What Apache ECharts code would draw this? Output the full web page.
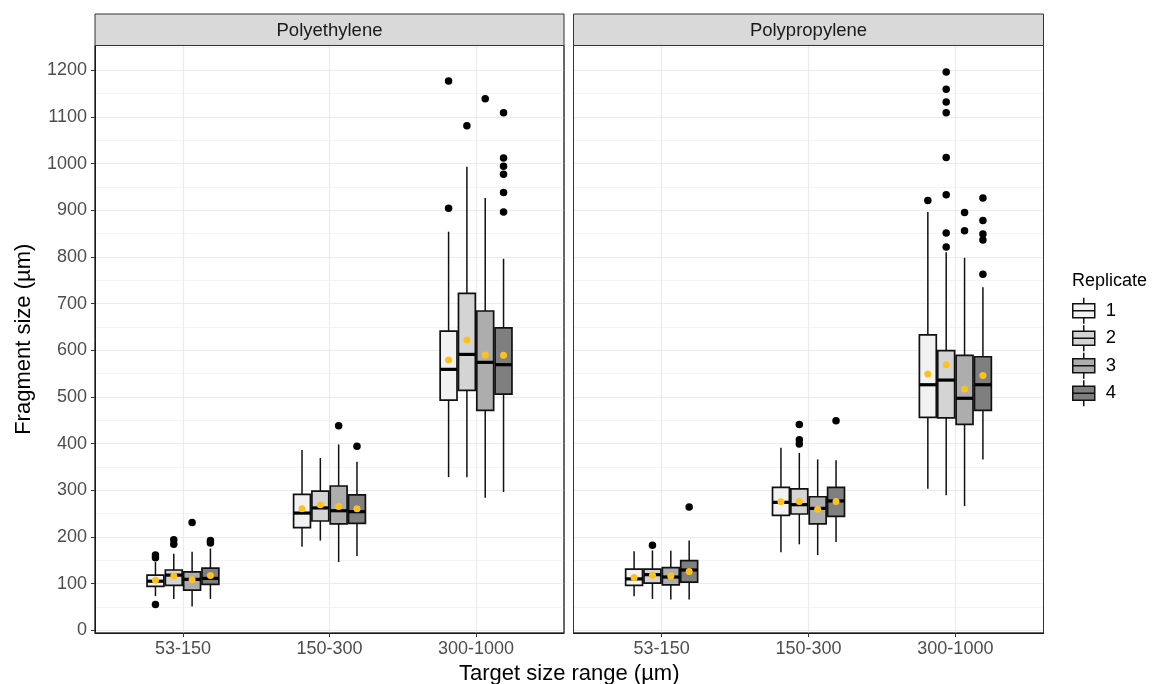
<!DOCTYPE html>
<html>
<head>
<meta charset="utf-8">
<script src="https://cdn.jsdelivr.net/npm/echarts@6/dist/echarts.min.js"></script>
<style>html,body{margin:0;padding:0;background:#fff}#chart{width:1157px;height:684px}</style>
</head>
<body>
<div id="chart"></div>
<script>
// ---------------- data ----------------
const facets = ['Polyethylene', 'Polypropylene'];
const categories = ['53-150', '150-300', '300-1000'];
const replicates = ['1', '2', '3', '4'];
const yTicks = [0, 100, 200, 300, 400, 500, 600, 700, 800, 900, 1000, 1100, 1200];

// [category][replicate] = [lower whisker, Q1, median, Q3, upper whisker]
const peStats = [
  [[73, 94, 105, 118, 146], [67, 96, 118, 129, 164], [51, 86, 109, 125, 168], [67, 98, 111, 133, 175]],
  [[179, 220, 251, 291, 386], [192, 234, 262, 298, 369], [146, 228, 256, 309, 398], [159, 229, 254, 290, 361]],
  [[328, 493, 559, 641, 854], [328, 514, 591, 722, 993], [284, 471, 574, 684, 926], [296, 506, 569, 648, 796]]
];
const ppStats = [
  [[73, 96, 110, 131, 169], [67, 101, 119, 131, 171], [66, 97, 114, 134, 170], [66, 103, 129, 149, 192]],
  [[167, 246, 274, 306, 391], [184, 249, 269, 303, 380], [161, 228, 261, 286, 366], [189, 244, 277, 306, 364]],
  [[303, 456, 526, 633, 896], [289, 455, 536, 599, 810], [266, 441, 497, 589, 798], [366, 471, 526, 586, 735]]
];
// [category][replicate] = mean
const peMeans = [[107, 116, 108, 117], [260, 269, 265, 260], [579, 622, 590, 589]];
const ppMeans = [[113, 118, 116, 126], [275, 276, 259, 276], [549, 569, 517, 546]];
// [category index, replicate index, value]
const peOutliers = [
  [0, 0, 161], [0, 0, 155], [0, 0, 55],
  [0, 1, 194], [0, 1, 184],
  [0, 2, 231],
  [0, 3, 192], [0, 3, 187],
  [1, 2, 438], [1, 3, 394],
  [2, 0, 1177], [2, 0, 904],
  [2, 1, 1081],
  [2, 2, 1139],
  [2, 3, 1109], [2, 3, 1012], [2, 3, 994], [2, 3, 977], [2, 3, 938], [2, 3, 896]
];
const ppOutliers = [
  [0, 1, 182], [0, 3, 264],
  [1, 1, 441], [1, 1, 408], [1, 1, 399], [1, 3, 449],
  [2, 0, 921],
  [2, 1, 1196], [2, 1, 1159], [2, 1, 1132], [2, 1, 1109], [2, 1, 1013], [2, 1, 933], [2, 1, 851], [2, 1, 821],
  [2, 2, 895], [2, 2, 856],
  [2, 3, 926], [2, 3, 878], [2, 3, 849], [2, 3, 836], [2, 3, 763]
];

// ---------------- style / layout ----------------
const FONT = '"Liberation Sans", Arial, Helvetica, sans-serif';
const fills = ['#F2F2F2', '#D4D4D4', '#ADADAD', '#7F7F7F'];
const MEAN_COLOR = '#FFC21A';
const DODGE = 0.125, BOX_W = 0.115;
const Y_MIN = -6, Y_MAX = 1253;
const panels = [
  { left: 95, top: 45.5, width: 469, height: 587.5 },
  { left: 573.5, top: 45.5, width: 470, height: 587.5 }
];
const statsByFacet = [peStats, ppStats];
const meansByFacet = [peMeans, ppMeans];
const outliersByFacet = [peOutliers, ppOutliers];

const dodgeX = (ci, ri) => ci + 1 + (ri - (replicates.length - 1) / 2) * DODGE;

function renderBox(params, api) {
  const x = api.value(0);
  const lo = api.coord([x, api.value(1)]);
  const q1 = api.coord([x, api.value(2)]);
  const md = api.coord([x, api.value(3)]);
  const q3 = api.coord([x, api.value(4)]);
  const hi = api.coord([x, api.value(5)]);
  const half = api.size([BOX_W, 0])[0] / 2;
  const cx = lo[0];
  const stroke = '#111';
  return {
    type: 'group',
    children: [
      { type: 'line', shape: { x1: cx, y1: hi[1], x2: cx, y2: q3[1] }, style: { stroke, lineWidth: 1.5 } },
      { type: 'line', shape: { x1: cx, y1: q1[1], x2: cx, y2: lo[1] }, style: { stroke, lineWidth: 1.5 } },
      { type: 'rect', shape: { x: cx - half, y: q3[1], width: 2 * half, height: q1[1] - q3[1] },
        style: { fill: api.visual('color'), stroke, lineWidth: 1.7 } },
      { type: 'line', shape: { x1: cx - half, y1: md[1], x2: cx + half, y2: md[1] }, style: { stroke: '#000', lineWidth: 3.2 } }
    ]
  };
}

const grid = panels.map(p => ({
  left: p.left, top: p.top, width: p.width, height: p.height,
  show: true, backgroundColor: '#fff', borderColor: '#333', borderWidth: 1,
  containLabel: false, outerBoundsMode: 'none'
}));

const xAxis = panels.map((p, i) => ({
  gridIndex: i, type: 'value', min: 0.4, max: 3.6, splitNumber: 3,
  axisLine: { show: true, onZero: false, lineStyle: { color: '#000', width: 1 } },
  axisTick: { show: true, length: 4, lineStyle: { color: '#333' }, customValues: categories.map((c, ci) => ci + 1) },
  axisLabel: {
    color: '#4D4D4D', fontSize: 18, fontFamily: FONT, margin: 7.5,
    formatter: v => (Math.abs(v - Math.round(v)) < 1e-6 && categories[Math.round(v) - 1]) || ''
  },
  splitLine: { show: true, lineStyle: { color: '#EBEBEB', width: 1.2 } }
}));

const yAxis = panels.map((p, i) => ({
  gridIndex: i, type: 'value', min: Y_MIN, max: Y_MAX, splitNumber: 12,
  axisLine: { show: true, onZero: false, lineStyle: { color: '#000', width: 1 } },
  axisTick: { show: i === 0, length: 4, lineStyle: { color: '#333' }, customValues: yTicks },
  axisLabel: {
    show: i === 0, color: '#4D4D4D', fontSize: 18, fontFamily: FONT, margin: 8,
    formatter: v => (yTicks.some(t => Math.abs(t - v) < 1e-6) ? String(v) : '')
  },
  splitLine: { show: true, lineStyle: { color: '#EBEBEB', width: 1.2 } },
  minorTick: { show: false, splitNumber: 2 },
  minorSplitLine: { show: true, lineStyle: { color: '#EBEBEB', width: 0.6 } },
  name: i === 0 ? 'Fragment size (µm)' : '',
  nameLocation: 'middle', nameGap: 60, nameRotate: 90,
  nameTextStyle: { fontSize: 22, color: '#000', fontFamily: FONT }
}));

const series = [];
facets.forEach((f, fi) => {
  const stats = statsByFacet[fi];
  replicates.forEach((rep, ri) => {
    series.push({
      type: 'custom', name: rep, xAxisIndex: fi, yAxisIndex: fi,
      itemStyle: { color: fills[ri] },
      renderItem: renderBox,
      encode: { x: 0, y: [1, 2, 3, 4, 5] },
      data: categories.map((c, ci) => [dodgeX(ci, ri)].concat(stats[ci][ri])),
      z: 2
    });
  });
  series.push({
    type: 'scatter', name: 'outlier', xAxisIndex: fi, yAxisIndex: fi,
    symbolSize: 7.5, itemStyle: { color: '#000', opacity: 1 },
    data: outliersByFacet[fi].map(([ci, ri, v]) => [dodgeX(ci, ri), v]),
    z: 3
  });
  series.push({
    type: 'scatter', name: 'mean', xAxisIndex: fi, yAxisIndex: fi,
    symbolSize: 7, itemStyle: { color: MEAN_COLOR, opacity: 1 },
    data: meansByFacet[fi].flatMap((row, ci) => row.map((v, ri) => [dodgeX(ci, ri), v])),
    z: 4
  });
});

const LEGEND_ICON = 'path://M11,0L11,6M0,6L22,6L22,20L0,20ZM0,13L22,13M11,20L11,26';

const graphic = [];
panels.forEach((p, i) => {
  // panel border drawn above grid lines
  graphic.push({
    type: 'rect', shape: { x: p.left, y: p.top, width: p.width, height: p.height },
    style: { fill: null, stroke: '#333', lineWidth: 1 }, z: 9, silent: true
  });
  graphic.push({
    type: 'rect', shape: { x: p.left, y: 14, width: p.width, height: p.top - 14 },
    style: { fill: '#D9D9D9', stroke: '#333', lineWidth: 1 }, z: 10
  });
  graphic.push({
    type: 'text', x: p.left + p.width / 2, y: (14 + p.top) / 2 + 1,
    style: { text: facets[i], fontSize: 18.5, fontFamily: FONT, fill: '#1A1A1A', align: 'center', verticalAlign: 'middle' },
    z: 11
  });
});
graphic.push({
  type: 'text', x: (panels[0].left + panels[1].left + panels[1].width) / 2, y: 674,
  style: { text: 'Target size range (µm)', fontSize: 22, fontFamily: FONT, fill: '#000', align: 'center', verticalAlign: 'middle' }
});
graphic.push({
  type: 'text', x: 1072, y: 281,
  style: { text: 'Replicate', fontSize: 18, fontFamily: FONT, fill: '#000', align: 'left', verticalAlign: 'middle' }
});

const option = {
  animation: false,
  backgroundColor: '#fff',
  textStyle: { fontFamily: FONT },
  grid, xAxis, yAxis, series, graphic,
  legend: {
    data: replicates.map((r, i) => ({
      name: r, icon: LEGEND_ICON,
      itemStyle: { color: fills[i], borderColor: '#111', borderWidth: 1.5 }
    })),
    orient: 'vertical', left: 1072, top: 297, padding: 0,
    itemWidth: 22, itemHeight: 26, itemGap: 0, selectedMode: false,
    textStyle: { fontSize: 18.5, color: '#000', fontFamily: FONT, padding: [0, 0, 0, 6] }
  }
};

const chart = echarts.init(document.getElementById('chart'), null, { renderer: 'canvas' });
chart.setOption(option);
</script>
</body>
</html>
